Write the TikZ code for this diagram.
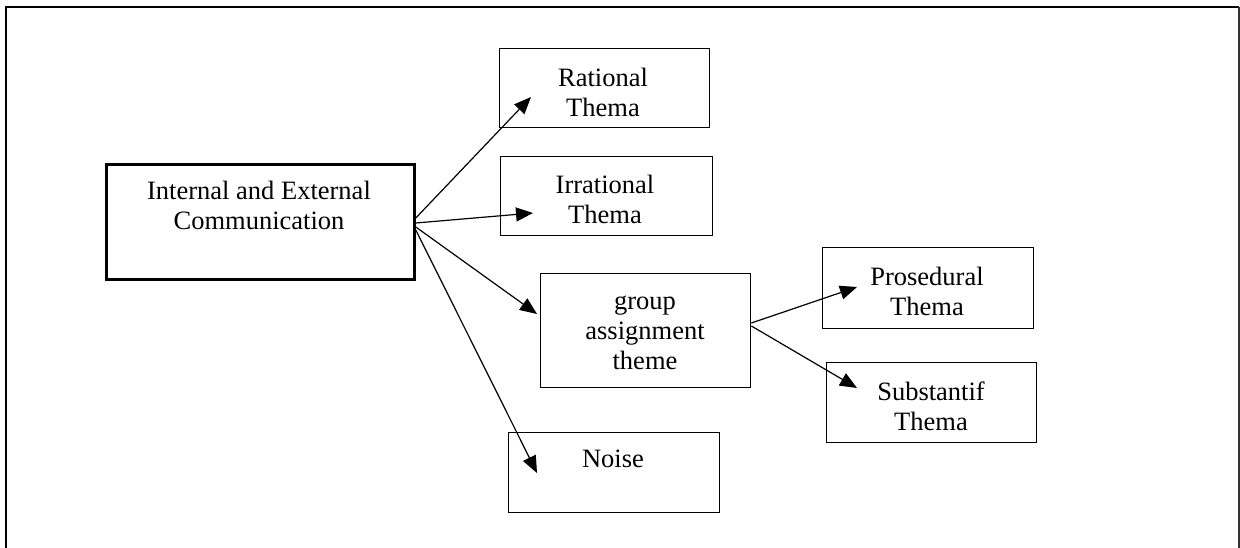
\documentclass[tikz,border=0pt]{standalone}
\usepackage{fontspec}
\setmainfont{Liberation Serif}
\usetikzlibrary{arrows.meta}
\begin{document}
\begin{tikzpicture}[x=1pt,y=-1pt,
  box/.style={draw, line width=1.4pt, rectangle, inner sep=0pt, anchor=north west},
  mainbox/.style={box, line width=2.8pt},
  lbl/.style={font=\fontsize{26.5}{30}\selectfont, align=center, inner sep=0pt},
  arr/.style={line width=1.2pt, -{Triangle[length=17pt,width=14pt]}}
]
\useasboundingbox (0,0) rectangle (1240,548);
% frame
\draw[line width=2.8pt] (6,548) -- (6,7) -- (1239,7);
\draw[line width=1.4pt, black!80] (1239,7) -- (1239,548);
% boxes
\node[mainbox, minimum width=308pt, minimum height=115pt] (main) at (105,163) {};
\node[box, minimum width=210pt, minimum height=79pt] (rat) at (499,48) {};
\node[box, minimum width=212pt, minimum height=79pt] (irr) at (500,156) {};
\node[box, minimum width=210pt, minimum height=114pt] (grp) at (540,273) {};
\node[box, minimum width=211pt, minimum height=80pt] (noi) at (508,432) {};
\node[box, minimum width=211pt, minimum height=81pt] (pro) at (822,247) {};
\node[box, minimum width=210pt, minimum height=80pt] (sub) at (826,362) {};
% labels
\node[lbl] (tmain) at (259,205) {Internal and External\\Communication};
\node[lbl] (trat) at (603,92) {Rational\\Thema};
\node[lbl] (tirr) at (605,199) {Irrational\\Thema};
\node[lbl] (tgrp) at (645,333) {group\\assignment\\theme};
\node[lbl] (tnoi) at (613,459) {Noise};
\node[lbl] (tpro) at (927,291) {Prosedural\\Thema};
\node[lbl] (tsub) at (931,406) {Substantif\\Thema};
% connector end points
\coordinate (m1) at (main.north east |- 0,218);
\coordinate (m2) at (main.north east |- 0,223);
\coordinate (m3) at (main.north east |- 0,227);
\coordinate (m4) at (main.north east |- 0,230);
\coordinate (erat) at (531,97);
\coordinate (eirr) at (533,213);
\coordinate (egrp) at (537,314);
\coordinate (enoi) at (537,473);
\coordinate (g1) at (grp.north east |- 0,323);
\coordinate (g2) at (grp.north east |- 0,326);
\coordinate (epro) at (857,287);
\coordinate (esub) at (857,388);
% arrows
\draw[arr] (m1) -- (erat);
\draw[arr] (m2) -- (eirr);
\draw[arr] (m3) -- (egrp);
\draw[arr] (m4) -- (enoi);
\draw[arr] (g1) -- (epro);
\draw[arr] (g2) -- (esub);
\end{tikzpicture}
\end{document}
